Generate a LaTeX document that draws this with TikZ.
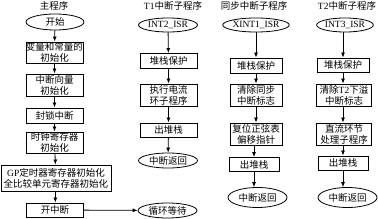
\documentclass[tikz,border=0pt]{standalone}
\usepackage{fontspec}
\setmainfont{Liberation Serif}
\newfontfamily\cjk{Noto Sans CJK SC}
\usetikzlibrary{arrows.meta,shapes.geometric}
\tikzset{
  box/.style={draw, line width=0.9pt, inner sep=0pt, align=center, font=\cjk\fontsize{9.5}{11}\selectfont, minimum width=57pt},
  term/.style={draw, ellipse, line width=0.8pt, inner sep=0pt, align=center, font=\fontsize{9.5}{11}\selectfont, minimum width=59pt, minimum height=15pt},
  ttl/.style={inner sep=0pt, font=\fontsize{9.5}{11}\selectfont},
  arr/.style={line width=0.8pt, -{Latex[length=5pt,width=4pt]}}
}
\begin{document}
\begin{tikzpicture}[x=1pt,y=-1pt]
\useasboundingbox (0,0) rectangle (378,219);
% titles
\node[ttl] (t0) at (54,5.5) {\cjk 主程序};
\node[ttl] (t1) at (173,5.5) {T1{\cjk 中断子程序}};
\node[ttl] (t2) at (254,5.5) {\cjk 同步中断子程序};
\node[ttl] (t3) at (347,5.5) {T2{\cjk 中断子程序}};
% main
\node[term, minimum width=58pt, minimum height=16pt] (m0) at (55,22) {\cjk 开始};
\node[box, minimum height=21pt] (m1) at (54.5,52.5) {变量和常量的\\初始化};
\node[box, minimum height=22pt] (m2) at (54.5,85) {中断向量\\初始化};
\node[box, minimum height=15pt] (m3) at (54.5,115.5) {封锁中断};
\node[box, minimum height=21pt] (m4) at (54.5,142.5) {时钟寄存器\\初始化};
\node[box, minimum width=110pt, minimum height=26pt] (m5) at (56,178) {{\fontspec{Liberation Serif}GP}定时器寄存器初始化\\全比较单元寄存器初始化};
\node[box, minimum height=14pt] (m6) at (55,210) {开中断};
\node[term] (m7) at (167.5,210.5) {\cjk 循环等待};
\draw[arr] (m0) -- (m1);
\draw[arr] (m1) -- (m2);
\draw[arr] (m2) -- (m3);
\draw[arr] (m3) -- (m4);
\draw[arr] (m4) -- (m5);
\draw[arr] (m5) -- (m6);
\draw[arr] (m6) -- (m7);
% T1
\node[term, minimum height=14pt] (a0) at (168,25) {INT2\_ISR};
\node[box, minimum height=15pt] (a1) at (168.5,61) {堆栈保护};
\node[box, minimum height=22pt] (a2) at (168.5,95) {执行电流\\环子程序};
\node[box, minimum height=14pt] (a3) at (168.5,130) {出堆栈};
\node[term, minimum height=15pt] (a4) at (168,160.5) {\cjk 中断返回};
\draw[arr] (a0) -- (a1);
\draw[arr] (a1) -- (a2);
\draw[arr] (a2) -- (a3);
\draw[arr] (a3) -- (a4);
% XINT1
\node[term, minimum width=56pt, minimum height=14pt] (b0) at (256,25) {XINT1\_ISR};
\node[box, minimum width=52pt, minimum height=15pt] (b1) at (256,65.5) {堆栈保护};
\node[box, minimum width=52pt, minimum height=22pt] (b2) at (256,95) {清除同步\\中断标志};
\node[box, minimum width=52pt, minimum height=22pt] (b3) at (256,134) {复位正弦表\\偏移指针};
\node[box, minimum width=50pt, minimum height=14pt] (b4) at (254,164.5) {出堆栈};
\node[term, minimum height=20pt] (b5) at (257.5,197.5) {\cjk 中断返回};
\draw[arr] (b0) -- (b1);
\draw[arr] (b1) -- (b2);
\draw[arr] (b2) -- (b3);
\draw[arr] (b3.south -| b4) -- (b4);
\draw[arr] (b4) -- (b5.north -| b4);
% T2
\node[term, minimum width=56pt, minimum height=14pt] (c0) at (345,25) {INT3\_ISR};
\node[box, minimum width=52pt, minimum height=14pt] (c1) at (343,65) {堆栈保护};
\node[box, minimum width=55pt, minimum height=22pt] (c2) at (344,95) {清除{\fontspec{Liberation Serif}T2}下溢\\中断标志};
\node[box, minimum width=55pt, minimum height=22pt] (c3) at (344,134) {直流环节\\处理子程序};
\node[box, minimum width=50pt, minimum height=14pt] (c4) at (343,163) {出堆栈};
\node[term, minimum height=20pt] (c5) at (347.5,197.5) {\cjk 中断返回};
\draw[arr] (c0.south -| c1) -- (c1);
\draw[arr] (c1) -- (c2.north -| c1);
\draw[arr] (c2.south -| c1) -- (c3.north -| c1);
\draw[arr] (c3.south -| c1) -- (c4);
\draw[arr] (c4) -- (c5.north -| c4);
\end{tikzpicture}
\end{document}
